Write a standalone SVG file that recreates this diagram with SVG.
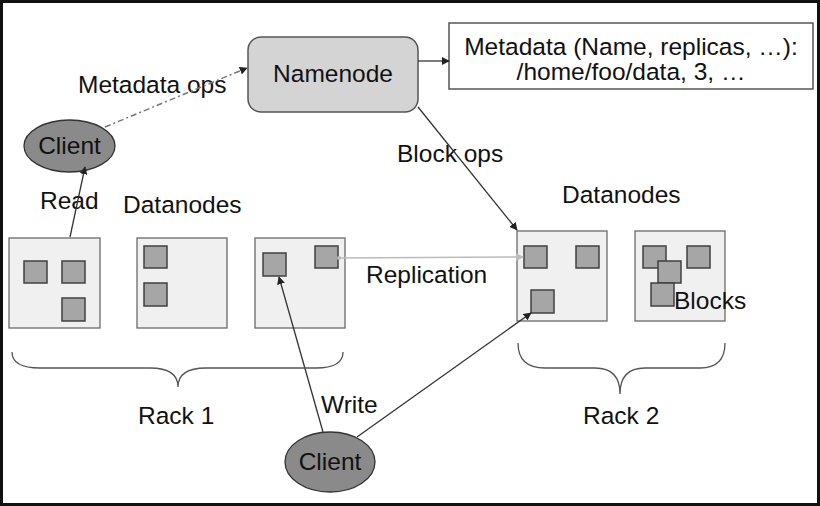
<svg xmlns="http://www.w3.org/2000/svg" width="820" height="506" viewBox="0 0 820 506">
<style>
text{font-family:"Liberation Sans",Arial,sans-serif;font-size:24.5px;fill:#111}
.dn{fill:#f0f0f0;stroke:#6a6a6a;stroke-width:1.3}
.blk{fill:#a6a6a6;stroke:#404040;stroke-width:1.5}
.cl{fill:#8a8a8a;stroke:#333;stroke-width:1.3}
.ln{fill:none;stroke:#333;stroke-width:1.3}
.br{fill:none;stroke:#555;stroke-width:1.3}
</style>
<defs>
<marker id="ah" viewBox="0 0 10 10" refX="9" refY="5" markerWidth="8" markerHeight="8" markerUnits="userSpaceOnUse" orient="auto"><path d="M0,0 L10,5 L0,10 z" fill="#222"/></marker>
<marker id="ahg" viewBox="0 0 10 10" refX="9" refY="5" markerWidth="8" markerHeight="8" markerUnits="userSpaceOnUse" orient="auto"><path d="M0,0 L10,5 L0,10 z" fill="#bbb"/></marker>
</defs>
<rect x="0" y="0" width="820" height="506" fill="#fff"/>
<rect x="1.5" y="1.5" width="817" height="503" fill="none" stroke="#111" stroke-width="3"/>

<g id="namenode">
<rect x="248" y="37" width="170" height="75" rx="13" fill="#d4d4d4" stroke="#555" stroke-width="1.5"/>
<text x="333" y="82" text-anchor="middle">Namenode</text>
</g>
<g id="metadata">
<rect x="449" y="23" width="364" height="66" fill="#fff" stroke="#555" stroke-width="1.5"/>
<text x="631" y="55" text-anchor="middle">Metadata (Name, replicas, …):</text>
<text x="631" y="80" text-anchor="middle">/home/foo/data, 3, …</text>
</g>
<g id="client1">
<ellipse cx="69.5" cy="146" rx="45.5" ry="26" class="cl"/>
<text x="69.5" y="154" text-anchor="middle">Client</text>
</g>
<g id="client2">
<ellipse cx="330" cy="462" rx="45" ry="30" class="cl"/>
<text x="330" y="470" text-anchor="middle">Client</text>
</g>

<g id="dn1">
<rect x="9" y="238" width="91" height="90" class="dn"/>
<rect x="24" y="261" width="23" height="22" class="blk"/>
<rect x="62" y="261" width="23" height="22" class="blk"/>
<rect x="62" y="298" width="23" height="23" class="blk"/>
</g>
<g id="dn2">
<rect x="137" y="238" width="90" height="90" class="dn"/>
<rect x="144" y="246" width="23" height="22" class="blk"/>
<rect x="144" y="283" width="23" height="23" class="blk"/>
</g>
<g id="dn3">
<rect x="255" y="238" width="90" height="90" class="dn"/>
<rect x="263" y="253" width="23" height="23" class="blk"/>
<rect x="315" y="246" width="23" height="22" class="blk"/>
</g>
<g id="dn4">
<rect x="517" y="231" width="90" height="90" class="dn"/>
<rect x="524" y="246" width="23" height="22" class="blk"/>
<rect x="576" y="246" width="23" height="22" class="blk"/>
<rect x="531" y="290" width="23" height="23" class="blk"/>
</g>
<g id="dn5">
<rect x="635" y="231" width="90" height="90" class="dn"/>
<rect x="643" y="246" width="23" height="22" class="blk"/>
<rect x="687" y="246" width="23" height="22" class="blk"/>
<rect x="658" y="261" width="23" height="22" class="blk"/>
<rect x="651" y="283" width="23" height="23" class="blk"/>
<text x="674" y="309">Blocks</text>
</g>

<g id="labels">
<text x="78" y="93">Metadata ops</text>
<text x="397" y="162">Block ops</text>
<text x="40" y="209">Read</text>
<text x="123" y="213">Datanodes</text>
<text x="562" y="203">Datanodes</text>
<text x="366" y="283">Replication</text>
<text x="321" y="413">Write</text>
<text x="138" y="424">Rack 1</text>
<text x="583" y="424">Rack 2</text>
</g>

<g id="connectors">
<line x1="418" y1="61" x2="449" y2="61" class="ln" marker-end="url(#ah)"/>
<line x1="105" y1="127" x2="247" y2="68" fill="none" stroke="#777" stroke-width="1.5" stroke-dasharray="6 3 2 3" marker-end="url(#ah)"/>
<line x1="418" y1="107" x2="517" y2="230" class="ln" marker-end="url(#ah)"/>
<line x1="70" y1="237" x2="85" y2="167" class="ln" marker-end="url(#ah)"/>
<line x1="338" y1="258" x2="523" y2="257" stroke="#bbb" stroke-width="1.5" marker-end="url(#ahg)"/>
<circle cx="339" cy="258" r="2" fill="#bbb"/>
<line x1="323" y1="432" x2="279" y2="277" class="ln" marker-end="url(#ah)"/>
<line x1="357" y1="437" x2="531" y2="313" class="ln" marker-end="url(#ah)"/>
<path d="M12,352 Q12,368 40,368 L150,368 Q178,368 178,387 Q178,368 206,368 L316,368 Q343,368 343,352" class="br"/>
<path d="M518,343 Q518,368 545,368 L595,368 Q620,368 620,394 Q620,368 645,368 L700,368 Q725,368 725,343" class="br"/>
</g>
</svg>
